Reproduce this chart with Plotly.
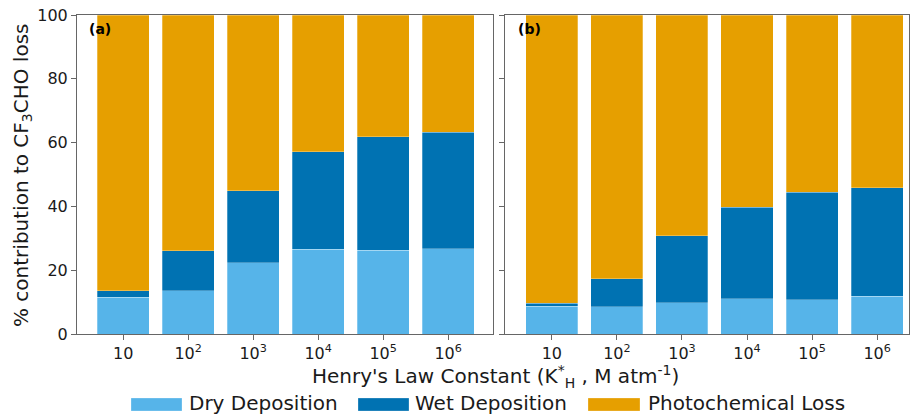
import plotly.graph_objects as go

# ---- data ----
categories = ["10", "10<sup>2</sup>", "10<sup>3</sup>", "10<sup>4</sup>", "10<sup>5</sup>", "10<sup>6</sup>"]
series_names = ["Dry Deposition", "Wet Deposition", "Photochemical Loss"]
colors = ["#56B4E9", "#0072B2", "#E69F00"]

dry_a = [11.6, 13.5, 22.3, 26.6, 26.2, 26.8]
wet_a = [1.9, 12.6, 22.6, 30.5, 35.7, 36.4]
photo_a = [86.5, 73.9, 55.1, 42.9, 38.1, 36.8]

dry_b = [8.7, 8.6, 9.8, 11.0, 10.8, 11.9]
wet_b = [1.0, 8.7, 21.0, 28.8, 33.7, 33.9]
photo_b = [90.3, 82.7, 69.2, 60.2, 55.5, 54.2]

yticks = [0, 20, 40, 60, 80, 100]

W, H = 912, 414
FONT = "DejaVu Sans"
TXT = "#1a1a1a"
AX = "#666666"

fig = go.Figure()
for (vals, xa, ya) in [((dry_a, wet_a, photo_a), "x", "y"), ((dry_b, wet_b, photo_b), "x2", "y2")]:
    for name, v, c in zip(series_names, vals, colors):
        fig.add_trace(go.Bar(
            x=categories, y=v, name=name, xaxis=xa, yaxis=ya,
            marker=dict(color=c, line=dict(color="rgba(255,255,255,0.45)", width=0.6)),
            showlegend=False, width=0.8,
        ))

def px_x(p):
    return p / W

def px_y(p):
    return 1 - p / H

y_dom = [px_y(334), px_y(15)]

common_x = dict(type="category", showline=True, linecolor=AX, linewidth=1, mirror=True,
                ticks="outside", ticklen=5, tickcolor=AX, tickwidth=1,
                tickfont=dict(family=FONT, size=16, color=TXT), showgrid=False,
                zeroline=False, automargin=False, fixedrange=True)
common_y = dict(range=[0, 100], tickvals=yticks, showline=True, linecolor=AX, linewidth=1,
                mirror=True, ticks="outside", ticklen=5, tickcolor=AX, tickwidth=1,
                showgrid=False, zeroline=False, automargin=False,
                tickfont=dict(family=FONT, size=16, color=TXT))

fig.update_layout(
    width=W, height=H,
    margin=dict(l=0, r=0, t=0, b=0),
    paper_bgcolor="white", plot_bgcolor="white",
    barmode="stack",
    font=dict(family=FONT, color=TXT),
    xaxis=dict(domain=[px_x(77), px_x(493)], range=[-0.71, 5.69], anchor="y", **common_x),
    yaxis=dict(domain=y_dom, anchor="x", showticklabels=True, **common_y),
    xaxis2=dict(domain=[px_x(505), px_x(909)], range=[-0.72, 5.49], anchor="y2", **common_x),
    yaxis2=dict(domain=y_dom, anchor="x2", showticklabels=False, **common_y),
)

annotations = [
    dict(text="<b>(a)</b>", x=px_x(87), y=px_y(29), xref="paper", yref="paper",
         xanchor="left", yanchor="middle", showarrow=False,
         font=dict(family=FONT, size=14, color="black")),
    dict(text="<b>(b)</b>", x=px_x(516), y=px_y(29), xref="paper", yref="paper",
         xanchor="left", yanchor="middle", showarrow=False,
         font=dict(family=FONT, size=14, color="black")),
    dict(text="% contribution to CF<sub>3</sub>CHO loss", textangle=-90,
         x=px_x(22), y=px_y(175), xref="paper", yref="paper",
         xanchor="center", yanchor="middle", showarrow=False,
         font=dict(family=FONT, size=20, color=TXT)),
    dict(text="Henry's Law Constant (K<sup>*</sup><sub>H</sub> , M atm<sup>-1</sup>)",
         x=px_x(495), y=px_y(376), xref="paper", yref="paper",
         xanchor="center", yanchor="middle", showarrow=False,
         font=dict(family=FONT, size=20, color=TXT)),
]

# manual legend
legend_items = [(131, 182, 187), (358, 409, 413), (588, 640, 646)]
shapes = []
for (x0, x1, tx), name, c in zip(legend_items, series_names, colors):
    shapes.append(dict(type="rect", xref="paper", yref="paper",
                       x0=px_x(x0), x1=px_x(x1), y0=px_y(411), y1=px_y(398),
                       fillcolor=c, line=dict(color="rgba(255,255,255,0.45)", width=0.6)))
    annotations.append(dict(text=name, x=px_x(tx), y=px_y(403), xref="paper", yref="paper",
                            xanchor="left", yanchor="middle", showarrow=False,
                            font=dict(family=FONT, size=20, color=TXT)))

fig.update_layout(annotations=annotations, shapes=shapes)

fig.write_html("out.html")
